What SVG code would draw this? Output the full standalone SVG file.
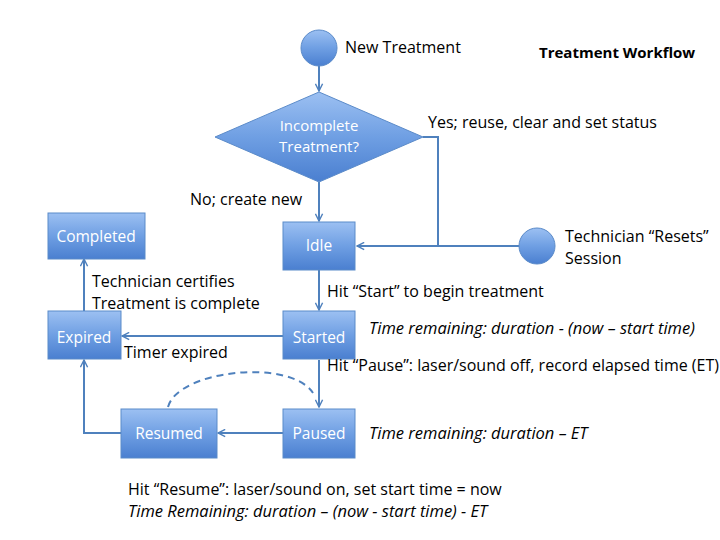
<svg xmlns="http://www.w3.org/2000/svg" width="720" height="540" viewBox="0 0 720 540">
<defs>
<linearGradient id="g" x1="0" y1="0" x2="0" y2="1">
<stop offset="0" stop-color="#9cc0f2"/>
<stop offset="0.5" stop-color="#6f9fe3"/>
<stop offset="1" stop-color="#4a7fd0"/>
</linearGradient>
<marker id="ah" viewBox="0 0 10 10" refX="9" refY="5" markerWidth="9" markerHeight="9" markerUnits="userSpaceOnUse" orient="auto">
<path d="M1,1 L9,5 L1,9" fill="none" stroke="#4f81bd" stroke-width="1.6"/>
</marker>
<style>
.n{fill:url(#g);stroke:#5b8bc9;stroke-width:1}
.c{fill:none;stroke:#4f81bd;stroke-width:2}
.a{marker-end:url(#ah)}
.d{fill:none;stroke:#4f81bd;stroke-width:2;stroke-dasharray:7 5}
.w{font-family:"Open Sans","Liberation Sans",Arial,sans-serif;font-size:15.5px;fill:#fff;text-anchor:middle}
.t{font-family:"Open Sans","Liberation Sans",Arial,sans-serif;font-size:16px;fill:#000}
.i{font-style:italic;font-size:16.5px}
.b{font-weight:bold;font-size:15px}
.s{font-size:15px}
</style>
</defs>
<rect width="720" height="540" fill="#fff"/>
<g id="connectors">
<path class="c a" d="M319,66 L319,91"/>
<path class="c a" d="M319,182 L319,221"/>
<path class="c" d="M423,137 L438,137 L438,246"/>
<path class="c a" d="M519,246 L357,246"/>
<path class="c a" d="M319,270 L319,310"/>
<path class="c a" d="M283,336 L122,336"/>
<path class="c a" d="M84,311 L84,259"/>
<path class="c a" d="M319,360 L319,407"/>
<path class="c a" d="M283,433 L218,433"/>
<path class="c a" d="M121,433 L84,433 L84,360"/>
<path class="d" d="M168,407 C178,370 290,358 313,393"/>
</g>
<g id="new-treatment"><circle class="n" cx="319" cy="48" r="18"/><text class="t" x="345" y="53">New Treatment</text></g>
<g id="title"><text class="t b" x="539" y="58">Treatment Workflow</text></g>
<g id="decision"><path class="n" d="M319,92 L423,137 L319,182 L215,137 Z"/><text class="w s" x="319" y="131">Incomplete</text><text class="w s" x="319" y="152">Treatment?</text></g>
<g id="lbl-yes"><text class="t" x="428" y="128">Yes; reuse, clear and set status</text></g>
<g id="lbl-no"><text class="t" x="190" y="205">No; create new</text></g>
<g id="idle"><rect class="n" x="283" y="222" width="72" height="48"/><text class="w" x="319" y="251">Idle</text></g>
<g id="reset"><circle class="n" cx="537" cy="246" r="18"/><text class="t" x="565" y="242">Technician “Resets”</text><text class="t" x="565" y="264">Session</text></g>
<g id="completed"><rect class="n" x="48" y="213" width="97" height="46"/><text class="w" x="96" y="242">Completed</text></g>
<g id="lbl-cert"><text class="t" x="92" y="287">Technician certifies</text><text class="t" x="92" y="309">Treatment is complete</text></g>
<g id="expired"><rect class="n" x="48" y="311" width="73" height="48"/><text class="w" x="84" y="343">Expired</text></g>
<g id="lbl-timer"><text class="t" x="124" y="358">Timer expired</text></g>
<g id="lbl-start"><text class="t" x="327" y="297">Hit “Start” to begin treatment</text></g>
<g id="started"><rect class="n" x="283" y="311" width="72" height="48"/><text class="w" x="319" y="343">Started</text></g>
<g id="lbl-started-time"><text class="t i" x="369" y="334">Time remaining: duration - (now – start time)</text></g>
<g id="lbl-pause"><text class="t" x="327" y="371">Hit “Pause”: laser/sound off, record elapsed time (ET)</text></g>
<g id="paused"><rect class="n" x="283" y="409" width="72" height="49"/><text class="w" x="319" y="439">Paused</text></g>
<g id="lbl-paused-time"><text class="t i" x="369" y="439">Time remaining: duration – ET</text></g>
<g id="resumed"><rect class="n" x="121" y="409" width="96" height="49"/><text class="w" x="169" y="439">Resumed</text></g>
<g id="lbl-resume"><text class="t" x="128" y="495">Hit “Resume”: laser/sound on, set start time = now</text><text class="t i" x="128" y="517">Time Remaining: duration – (now - start time) - ET</text></g>
</svg>
